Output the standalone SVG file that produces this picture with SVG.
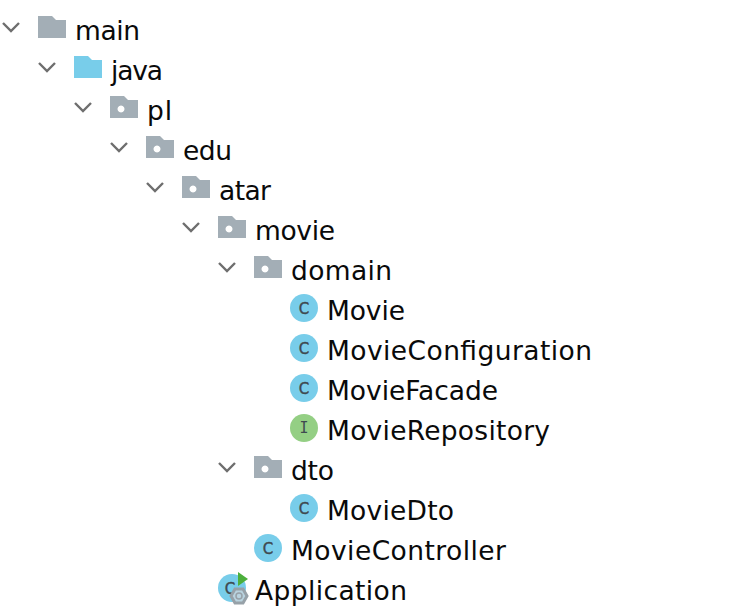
<svg xmlns="http://www.w3.org/2000/svg" width="740" height="616" viewBox="0 0 740 616">
<style>
.t{font-family:"DejaVu Sans","Liberation Sans",sans-serif;font-size:26.500px;fill:#0a0a0a}
.l{font-family:"DejaVu Sans","Liberation Sans",sans-serif;font-size:15px;font-weight:500;fill:#3f4a50;stroke:#3f4a50;stroke-width:0.400;text-anchor:middle}
.i{font-family:"DejaVu Sans Mono","Liberation Mono",monospace;font-size:15px;fill:#3f4a50;text-anchor:middle}
.chev{fill:none;stroke:#6e6e6e;stroke-width:2.400}
.cc{fill:#78cdea}
.ci{fill:#94cf84}
</style>
<defs>
<path id="fold" d="M0 0H14L18 4H28V22H0Z"/>
<path id="pkg" fill-rule="evenodd" d="M0 0H14L18 4H28V22H0ZM11 9.500a3.500 3.500 0 1 0 0.010 0Z" fill="#a3aeb6"/>
<path id="ch" class="chev" d="M0 0L8 8L16 0"/>
</defs>
<rect width="740" height="616" fill="#ffffff"/>
<g id="connectors">
<use href="#ch" x="3" y="23"/>
<use href="#ch" x="39" y="63"/>
<use href="#ch" x="75" y="103"/>
<use href="#ch" x="111" y="143"/>
<use href="#ch" x="147" y="183"/>
<use href="#ch" x="183" y="223"/>
<use href="#ch" x="219" y="263"/>
<use href="#ch" x="219" y="463"/>
</g>
<g id="main"><use href="#fold" x="38" y="16" fill="#a3aeb6"/><text class="t" x="75" y="40" textLength="65">main</text></g>
<g id="java"><use href="#fold" x="74" y="56" fill="#78cdea"/><text class="t" x="111" y="80" textLength="52">java</text></g>
<g id="pl"><use href="#pkg" x="110" y="96"/><text class="t" x="147" y="120" textLength="25">pl</text></g>
<g id="edu"><use href="#pkg" x="146" y="136"/><text class="t" x="183" y="160" textLength="49">edu</text></g>
<g id="atar"><use href="#pkg" x="182" y="176"/><text class="t" x="219" y="200" textLength="52">atar</text></g>
<g id="movie"><use href="#pkg" x="218" y="216"/><text class="t" x="255" y="240" textLength="80">movie</text></g>
<g id="domain"><use href="#pkg" x="254" y="256"/><text class="t" x="291" y="280" textLength="101">domain</text></g>
<g id="Movie"><circle class="cc" cx="304" cy="308" r="14"/><text class="l" x="304" y="313.500">C</text><text class="t" x="327" y="320" textLength="78">Movie</text></g>
<g id="MovieConfiguration"><circle class="cc" cx="304" cy="348" r="14"/><text class="l" x="304" y="353.500">C</text><text class="t" x="327" y="360" textLength="265">MovieConfiguration</text></g>
<g id="MovieFacade"><circle class="cc" cx="304" cy="388" r="14"/><text class="l" x="304" y="393.500">C</text><text class="t" x="327" y="400" textLength="171">MovieFacade</text></g>
<g id="MovieRepository"><circle class="ci" cx="304" cy="428" r="14"/><text class="i" x="304" y="433">I</text><text class="t" x="327" y="440" textLength="223">MovieRepository</text></g>
<g id="dto"><use href="#pkg" x="254" y="456"/><text class="t" x="291" y="480" textLength="43">dto</text></g>
<g id="MovieDto"><circle class="cc" cx="304" cy="508" r="14"/><text class="l" x="304" y="513.500">C</text><text class="t" x="327" y="520" textLength="127">MovieDto</text></g>
<g id="MovieController"><circle class="cc" cx="268" cy="548" r="14"/><text class="l" x="268" y="553.500">C</text><text class="t" x="291" y="560" textLength="215">MovieController</text></g>
<g id="Application"><circle class="cc" cx="232" cy="588" r="14"/><text class="l" x="230" y="593.500">C</text>
<polygon points="238,572 248,579 238,586" fill="#4caf3c"/>
<polygon points="235,589 243,589 247,596 243,603 235,603 231,596" fill="#b9d3df" stroke="#97a1a8" stroke-width="3"/>
<circle cx="239" cy="596" r="3" fill="none" stroke="#97a1a8" stroke-width="1.500"/>
<text class="t" x="255" y="600" textLength="152">Application</text></g>
</svg>
